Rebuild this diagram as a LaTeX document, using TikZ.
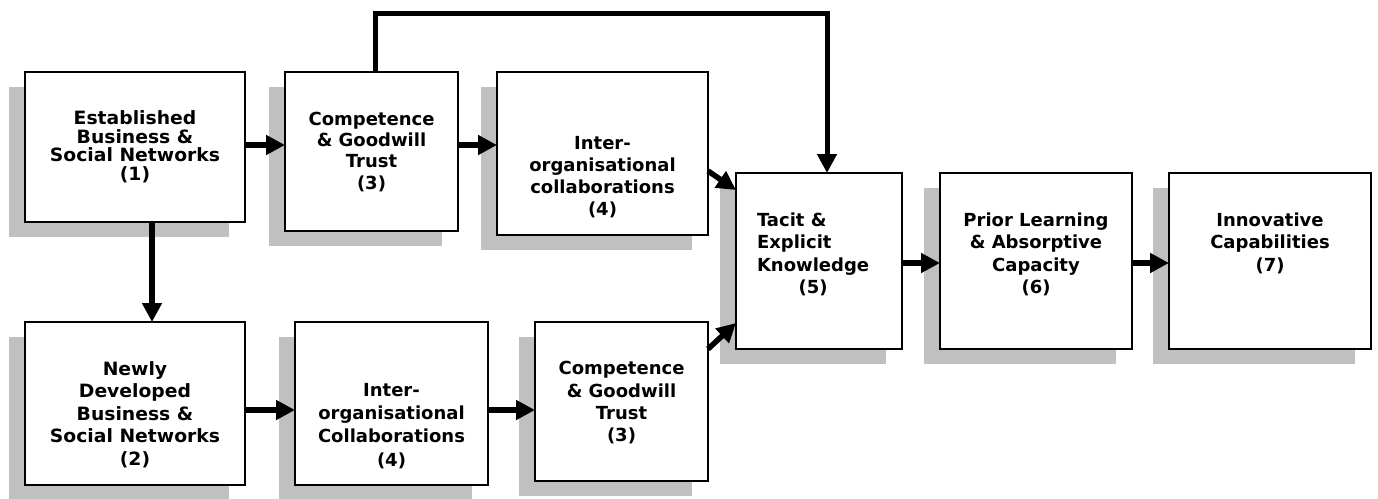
\documentclass[tikz,border=0pt]{standalone}
\usepackage{fontspec}
\usepackage{calc}
\setmainfont{DejaVu Sans}
\newfontfamily\widefont{DejaVu Sans}[FakeStretch=1.025]
\usetikzlibrary{arrows.meta,shadows}
\definecolor{shadowgray}{HTML}{C0C0C0}
\tikzset{
  box/.style={draw=black, line width=2pt, fill=white, rectangle, inner sep=0pt,
    outer sep=0pt, anchor=north west,
    drop shadow={shadow xshift=-16pt, shadow yshift=-15pt, fill=shadowgray, opacity=1}},
  txt/.style={inner sep=0pt, outer sep=0pt, anchor=north, align=center,
    font=\bfseries\fontsize{18}{22.3}\selectfont},
  widetxt/.style={txt, font=\widefont\bfseries\fontsize{18.3}{#1}\selectfont},
  flow/.style={line width=6pt, -{Triangle[length=19pt,width=19pt]}},
  loop/.style={line width=5pt, -{Triangle[length=19pt,width=19pt]}}
}
\newcommand{\mkbox}[5]{%
  \node[box, minimum width=#4-#2, minimum height=#5-#3] (#1) at (#2,#3) {};}
\begin{document}
\begin{tikzpicture}[x=1pt,y=-1pt]
\useasboundingbox (0,0) rectangle (1378,498);
% boxes: name, left, top, right, bottom
\mkbox{b1}{25}{72}{245}{222}
\mkbox{b3}{285}{72}{458}{231}
\mkbox{b4}{497}{72}{708}{235}
\mkbox{b5}{736}{173}{902}{349}
\mkbox{b6}{940}{173}{1132}{349}
\mkbox{b7}{1169}{173}{1371}{349}
\mkbox{b2}{25}{322}{245}{485}
\mkbox{b8}{295}{322}{488}{485}
\mkbox{b9}{535}{322}{708}{481}

% texts
\node[widetxt=18.5] (t1) at ([yshift=-39pt]b1.north)
  {Established\\Business \&\\Social Networks\\(1)};
\node[txt, font=\bfseries\fontsize{18}{21.3}\selectfont] (t3) at ([yshift=-40pt]b3.north)
  {Competence\\\& Goodwill\\Trust\\(3)};
\node[txt, font=\bfseries\fontsize{18}{22}\selectfont] (t4) at ([yshift=-64.5pt]b4.north)
  {Inter-\\organisational\\collaborations\\(4)};
\node[txt, anchor=north west, align=left] (t5) at ([xshift=21pt,yshift=-40pt]b5.north west)
  {Tacit \&\\Explicit\\Knowledge\\\makebox[\widthof{Knowledge}]{(5)}};
\node[txt] (t6) at ([yshift=-40pt]b6.north)
  {Prior Learning\\\& Absorptive\\Capacity\\(6)};
\node[txt] (t7) at ([yshift=-40pt]b7.north)
  {Innovative\\Capabilities\\(7)};
\node[widetxt=22.5] (t2) at ([yshift=-39.5pt]b2.north)
  {Newly\\Developed\\Business \&\\Social Networks\\(2)};
\node[txt, font=\bfseries\fontsize{18}{23.3}\selectfont] (t8) at ([yshift=-61pt]b8.north)
  {Inter-\\organisational\\Collaborations\\(4)};
\node[txt] (t9) at ([yshift=-39.5pt]b9.north)
  {Competence\\\& Goodwill\\Trust\\(3)};

% connectors
\draw[flow] (b1.east |- 0,145) -- (b3.west |- 0,145);
\draw[flow] (b3.east |- 0,145) -- (b4.west |- 0,145);
\draw[flow] (b1.south -| 152,0) -- (b2.north -| 152,0);
\draw[flow] (b2.east |- 0,410) -- (b8.west |- 0,410);
\draw[flow] (b8.east |- 0,410) -- (b9.west |- 0,410);
\draw[flow] (b5.east |- 0,263) -- (b6.west |- 0,263);
\draw[flow] (b6.east |- 0,263) -- (b7.west |- 0,263);
\draw[flow, line width=5.5pt] ([yshift=-99pt]b4.north east) -- ([yshift=-17pt]b5.north west);
\draw[flow, line width=5.5pt] ([yshift=132pt]b9.south east) -- ([yshift=26pt]b5.south west);
\draw[loop] (b3.north -| 375,0) -- (375,13) -- (827,13) -- (b5.north -| 827,0);
\end{tikzpicture}
\end{document}
